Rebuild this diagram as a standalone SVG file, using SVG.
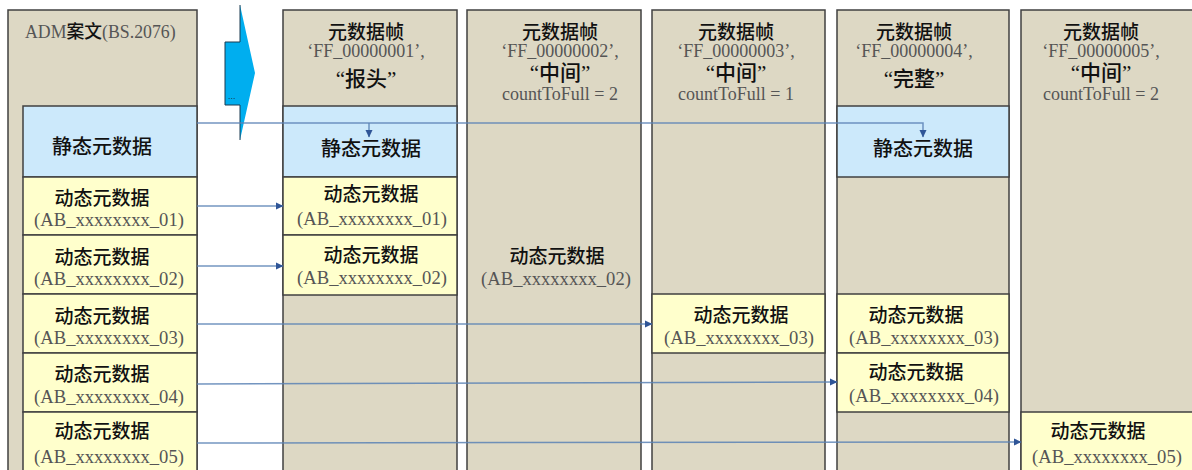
<svg xmlns="http://www.w3.org/2000/svg" width="1192" height="470" viewBox="0 0 1192 470">
<defs>
<marker id="ah" markerWidth="8" markerHeight="8" refX="7" refY="4" orient="auto" markerUnits="userSpaceOnUse">
<path d="M0,0.5 L7.5,4 L0,7.5 Z" fill="#2F5597"/>
</marker>
<style>
.col{fill:#DDD8C4;stroke:#404040;stroke-width:1.5}
.sta{fill:#CCE9FB;stroke:#404040;stroke-width:1.5}
.dyn{fill:#FFFFCC;stroke:#404040;stroke-width:1.5}
.cjk{font-family:"Liberation Serif","Noto Sans CJK SC",serif;fill:#111;text-anchor:middle;font-weight:500}
.lat{font-family:"Liberation Serif","Noto Sans CJK SC",serif;fill:#555;text-anchor:middle;font-size:18px}
.dl{font-size:18.6px}
.h1{font-size:19px}
.q{font-size:21px}
.big{font-size:20px}
.con{fill:none;stroke:#5B82B5;stroke-width:1.5;stroke-opacity:0.85}
</style>
</defs>
<rect width="1192" height="470" fill="#FFFFFF"/>

<g id="adm">
<rect class="col" x="8" y="10" width="189" height="470"/>
<text x="25" y="38" font-family="Liberation Serif,'Noto Sans CJK SC',serif" font-size="17.8" fill="#555"><tspan>ADM</tspan><tspan fill="#111" font-weight="500">案文</tspan><tspan>(BS.2076)</tspan></text>
<rect class="sta" x="23" y="106" width="174" height="71"/>
<text class="cjk big" x="102" y="154">静态元数据</text>
<rect class="dyn" x="23" y="177" width="174" height="58"/>
<text class="cjk h1" x="102" y="205">动态元数据</text>
<text class="lat dl" x="109" y="226">(AB_xxxxxxxx_01)</text>
<rect class="dyn" x="23" y="235" width="174" height="59"/>
<text class="cjk h1" x="102" y="264">动态元数据</text>
<text class="lat dl" x="109" y="285">(AB_xxxxxxxx_02)</text>
<rect class="dyn" x="23" y="294" width="174" height="59"/>
<text class="cjk h1" x="102" y="323">动态元数据</text>
<text class="lat dl" x="109" y="344">(AB_xxxxxxxx_03)</text>
<rect class="dyn" x="23" y="353" width="174" height="59"/>
<text class="cjk h1" x="102" y="381">动态元数据</text>
<text class="lat dl" x="109" y="403">(AB_xxxxxxxx_04)</text>
<rect class="dyn" x="23" y="412" width="174" height="62"/>
<text class="cjk h1" x="102" y="438">动态元数据</text>
<text class="lat dl" x="109" y="463">(AB_xxxxxxxx_05)</text>
</g>

<g id="arrow">
<polygon points="240,5 255,73 240,140 240,105 225,105 225,42 240,42" fill="#00AEEF"/>
<polyline points="240,5 240,42 225,42 225,105 240,105 240,140" fill="none" stroke="#1a3a50" stroke-width="1"/>
<text x="228" y="99" font-family="Liberation Sans,sans-serif" font-size="9" fill="#1a3a50">...</text>
</g>

<g id="frame1">
<rect class="col" x="283" y="10" width="174" height="470"/>
<text class="cjk h1" x="366" y="39">元数据帧</text>
<text class="lat" x="366" y="57">‘FF_00000001’,</text>
<text class="cjk q" x="366" y="86">“报头”</text>
<rect class="sta" x="283" y="106" width="174" height="71"/>
<text class="cjk big" x="371" y="156">静态元数据</text>
<rect class="dyn" x="283" y="177" width="174" height="58"/>
<text class="cjk h1" x="371" y="201">动态元数据</text>
<text class="lat dl" x="372" y="225">(AB_xxxxxxxx_01)</text>
<rect class="dyn" x="283" y="235" width="174" height="60"/>
<text class="cjk h1" x="371" y="262">动态元数据</text>
<text class="lat dl" x="372" y="284">(AB_xxxxxxxx_02)</text>
</g>

<g id="frame2">
<rect class="col" x="467" y="10" width="174" height="470"/>
<text class="cjk h1" x="560" y="39">元数据帧</text>
<text class="lat" x="560" y="57">‘FF_00000002’,</text>
<text class="cjk q" x="560" y="80">“中间”</text>
<text class="lat" x="560" y="100">countToFull = 2</text>
<text class="cjk h1" x="557" y="263">动态元数据</text>
<text class="lat dl" x="556" y="285">(AB_xxxxxxxx_02)</text>
</g>

<g id="frame3">
<rect class="col" x="652" y="10" width="173" height="470"/>
<text class="cjk h1" x="736" y="39">元数据帧</text>
<text class="lat" x="736" y="57">‘FF_00000003’,</text>
<text class="cjk q" x="736" y="80">“中间”</text>
<text class="lat" x="736" y="100">countToFull = 1</text>
<rect class="dyn" x="652" y="294" width="173" height="59"/>
<text class="cjk h1" x="741" y="322">动态元数据</text>
<text class="lat dl" x="739" y="344">(AB_xxxxxxxx_03)</text>
</g>

<g id="frame4">
<rect class="col" x="837" y="10" width="172" height="470"/>
<text class="cjk h1" x="914" y="39">元数据帧</text>
<text class="lat" x="914" y="57">‘FF_00000004’,</text>
<text class="cjk q" x="914" y="86">“完整”</text>
<rect class="sta" x="837" y="106" width="172" height="71"/>
<text class="cjk big" x="923" y="156">静态元数据</text>
<rect class="dyn" x="837" y="294" width="172" height="59"/>
<text class="cjk h1" x="916" y="322">动态元数据</text>
<text class="lat dl" x="924" y="344">(AB_xxxxxxxx_03)</text>
<rect class="dyn" x="837" y="353" width="172" height="59"/>
<text class="cjk h1" x="916" y="379">动态元数据</text>
<text class="lat dl" x="924" y="402">(AB_xxxxxxxx_04)</text>
</g>

<g id="frame5">
<rect class="col" x="1021" y="10" width="180" height="470"/>
<text class="cjk h1" x="1101" y="39">元数据帧</text>
<text class="lat" x="1101" y="57">‘FF_00000005’,</text>
<text class="cjk q" x="1101" y="80">“中间”</text>
<text class="lat" x="1101" y="100">countToFull = 2</text>
<rect class="dyn" x="1021" y="412" width="180" height="62"/>
<text class="cjk h1" x="1098" y="438">动态元数据</text>
<text class="lat dl" x="1107" y="463">(AB_xxxxxxxx_05)</text>
</g>

<g id="connectors">
<path class="con" d="M197,123 H923 V137" marker-end="url(#ah)"/>
<path class="con" d="M369,123 V137" marker-end="url(#ah)"/>
<path class="con" d="M197,206 H283" marker-end="url(#ah)"/>
<path class="con" d="M197,266 H283" marker-end="url(#ah)"/>
<path class="con" d="M197,324 L652,324" marker-end="url(#ah)"/>
<path class="con" d="M197,384 L837,382" marker-end="url(#ah)"/>
<path class="con" d="M197,443 L1021,442" marker-end="url(#ah)"/>
</g>
</svg>
